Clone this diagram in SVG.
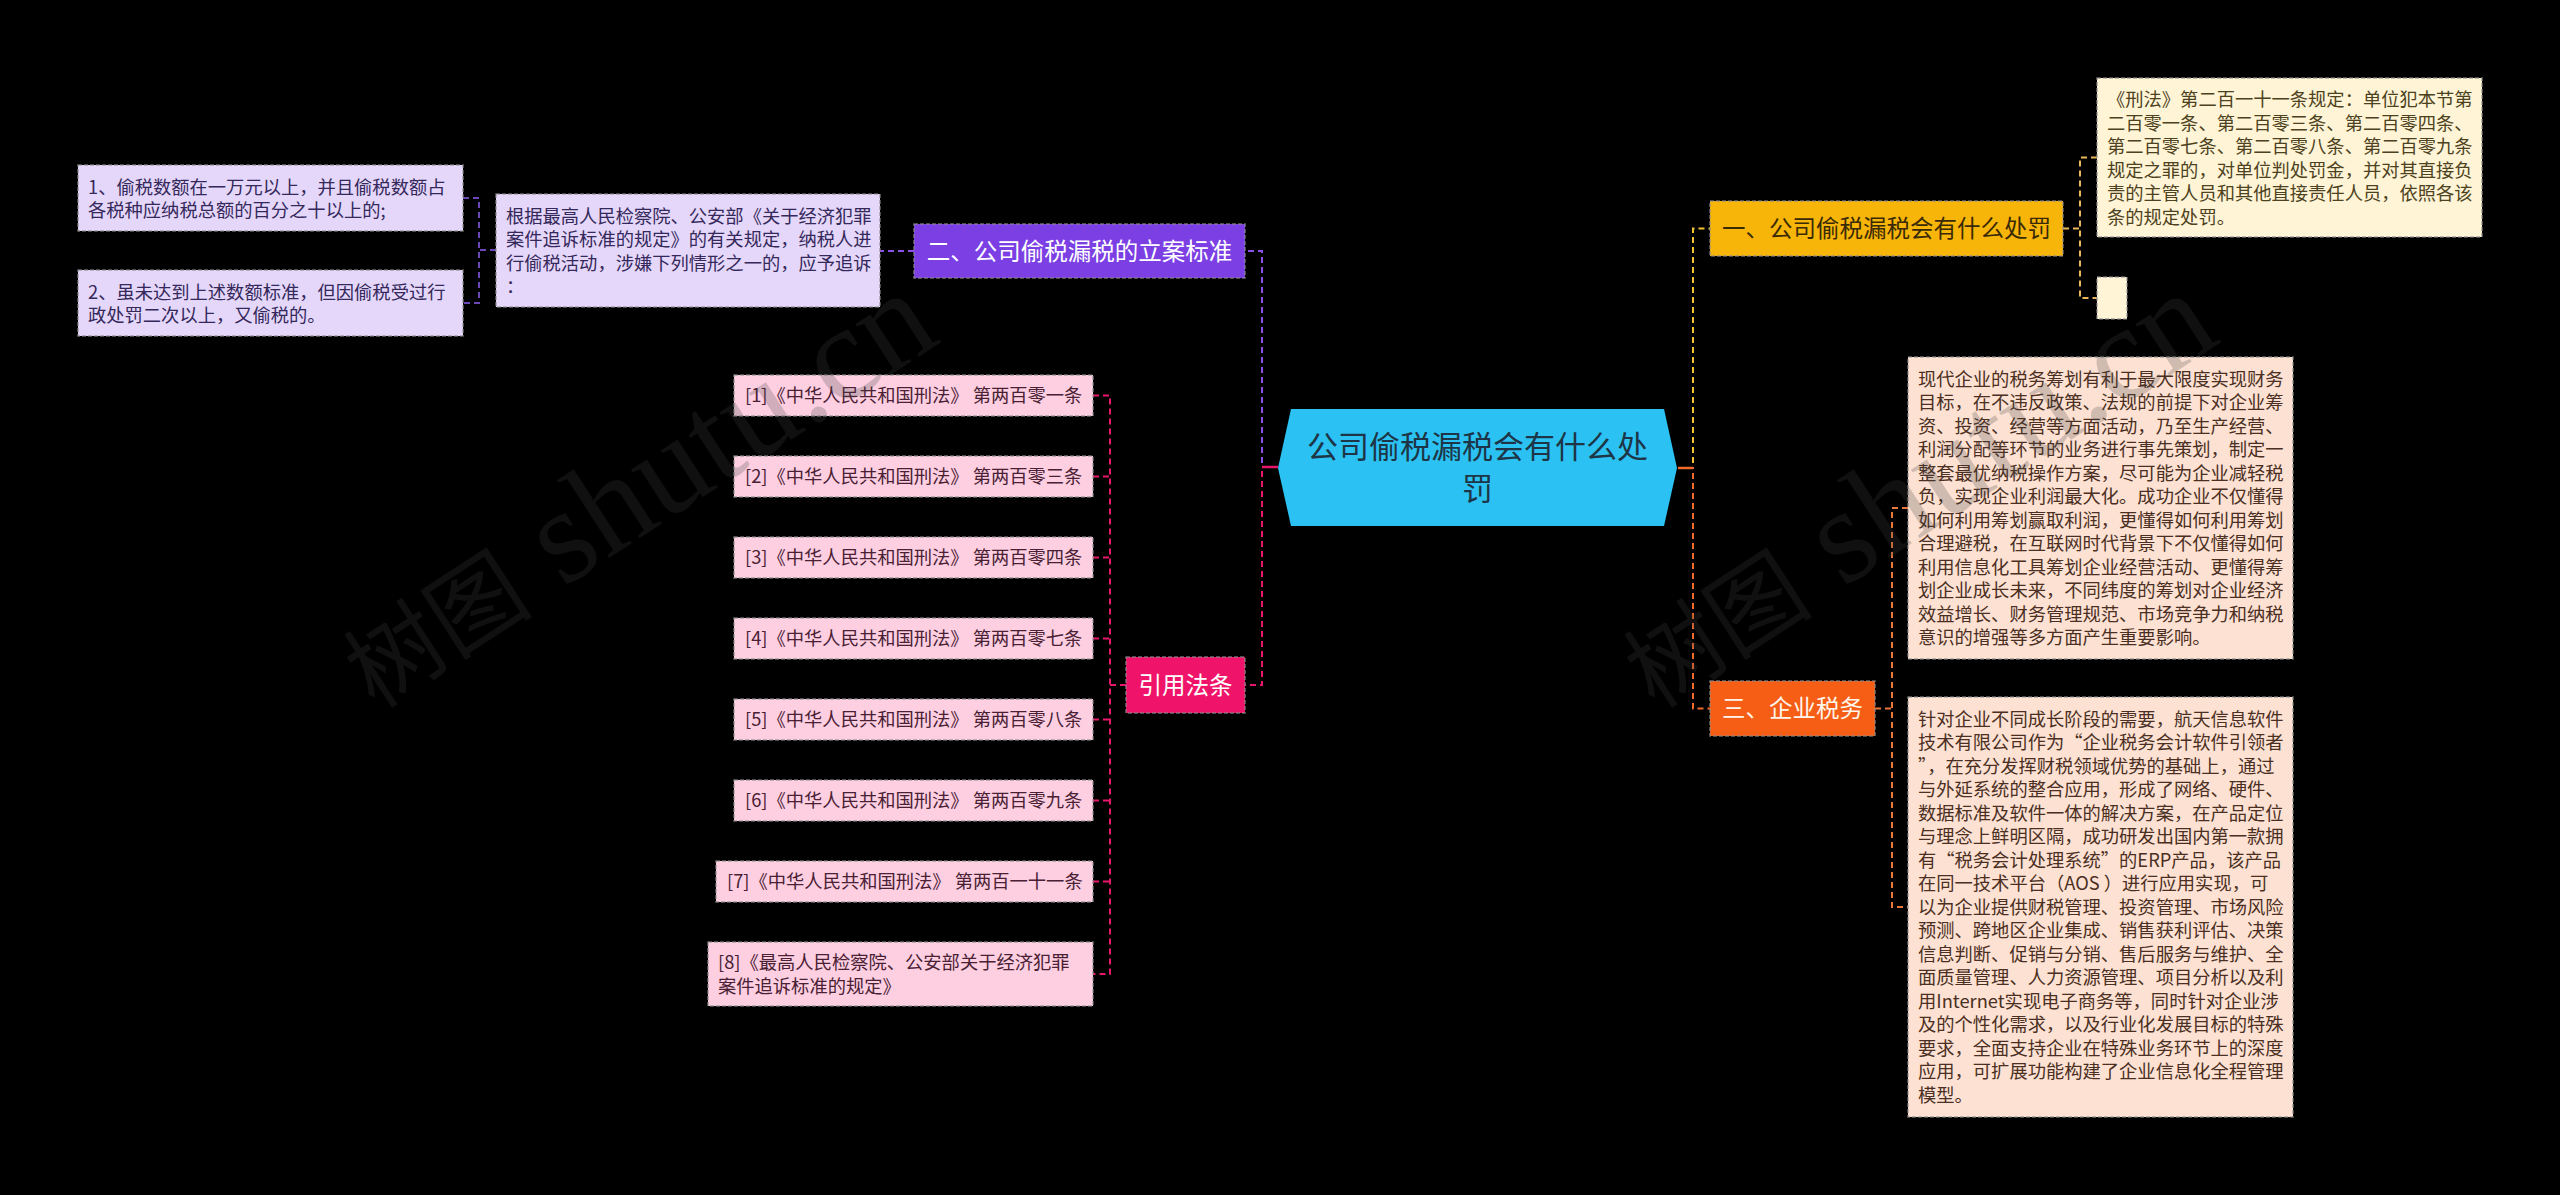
<svg xmlns="http://www.w3.org/2000/svg" width="2560" height="1195" viewBox="0 0 2560 1195">
<style>
.t{font-family:"Noto Sans CJK SC","Liberation Sans",sans-serif;font-size:18.3px}
.b{font-family:"Noto Sans CJK SC","Liberation Sans",sans-serif;font-size:23.5px;text-anchor:middle}
.box{stroke:#8c8c8c;stroke-opacity:.75;stroke-width:1.5;stroke-dasharray:4 2}
.lav{fill:#E4D7FA}.lavt{fill:#35285a}
.pk{fill:#FDCFE1}.pkt{fill:#4a2034}
.cr{fill:#FFF4D6}.crt{fill:#4d4220}
.pe{fill:#FDE1D3}.pet{fill:#4a2f22}
.c{fill:none;stroke-width:2;stroke-dasharray:6 4}
.wm{font-family:"Liberation Serif","Noto Sans CJK SC",serif;fill:#444;fill-opacity:.24}
</style>
<rect x="0" y="0" width="2560" height="1195" fill="#000"/>

<g id="connectors">
  <path class="c" stroke="#8D4FE6" d="M1278 467 H1262 V251 H1245"/>
  <path class="c" stroke="#8D4FE6" d="M914 251 H880"/>
  <path class="c" stroke="#6B47B8" d="M496 250 H479 M463 198 H479 V303 H463"/>
  <path class="c" stroke="#E8176B" d="M1278 467 H1262 V685 H1245"/>
  <path fill="none" stroke="#E8176B" stroke-width="2.5" d="M1262 467 H1278"/>
  <path class="c" stroke="#E8176B" d="M1126 685 H1110 M1093 395.5 H1110 V974 H1093 M1093 476.5 H1110 M1093 557.5 H1110 M1093 638.5 H1110 M1093 719.5 H1110 M1093 800.5 H1110 M1093 881.5 H1110"/>
  <path class="c" stroke="#F2C230" d="M1678 468 H1693 V228.5 H1710"/>
  <path class="c" stroke="#F2692A" d="M1678 468 H1693 V708.5 H1710"/>
  <path fill="none" stroke="#F2692A" stroke-width="2.5" d="M1678 468 H1693"/>
  <path class="c" stroke="#E7B75A" d="M2063 228.5 H2080 M2097 157.5 H2080 V298 H2097"/>
  <path class="c" stroke="#E9773A" d="M1875 708.5 H1892 M1908 508 H1892 V907 H1908"/>
</g>

<g id="center">
  <polygon points="1291,409 1664,409 1677,468 1664,526 1291,526 1278,468" fill="#2BC2F3"/>
  <text x="1477.5" y="458" font-family="Noto Sans CJK SC,Liberation Sans,sans-serif" font-size="31" text-anchor="middle" fill="#1d3546">公司偷税漏税会有什么处</text>
  <text x="1477.5" y="500" font-family="Noto Sans CJK SC,Liberation Sans,sans-serif" font-size="31" text-anchor="middle" fill="#1d3546">罚</text>
</g>

<g id="n2">
  <rect class="box" x="914" y="224" width="331" height="54" fill="#7B3FE4"/>
  <text class="b" x="1079.5" y="259.6" fill="#fff">二、公司偷税漏税的立案标准</text>
</g>
<g id="n2-main">
  <rect class="box lav" x="496" y="194" width="384" height="113"/>
  <text class="t lavt" x="506" y="222.5">根据最高人民检察院、公安部《关于经济犯罪</text>
  <text class="t lavt" x="506" y="246">案件追诉标准的规定》的有关规定，纳税人进</text>
  <text class="t lavt" x="506" y="269.5">行偷税活动，涉嫌下列情形之一的，应予追诉</text>
  <text class="t lavt" x="506" y="293">：</text>
</g>
<g id="n2-a">
  <rect class="box lav" x="78" y="165" width="385" height="66"/>
  <text class="t lavt" x="88" y="193.5">1、偷税数额在一万元以上，并且偷税数额占</text>
  <text class="t lavt" x="88" y="217">各税种应纳税总额的百分之十以上的;</text>
</g>
<g id="n2-b">
  <rect class="box lav" x="78" y="270" width="385" height="66"/>
  <text class="t lavt" x="88" y="298.5">2、虽未达到上述数额标准，但因偷税受过行</text>
  <text class="t lavt" x="88" y="322">政处罚二次以上，又偷税的。</text>
</g>

<g id="nref">
  <rect class="box" x="1126" y="657" width="119" height="56" fill="#EF1469"/>
  <text class="b" x="1185.5" y="693.6" fill="#fff">引用法条</text>
</g>
<g id="ref1"><rect class="box pk" x="734" y="375" width="359" height="41"/><text class="t pkt" x="745" y="402.2">[1]《中华人民共和国刑法》 第两百零一条</text></g>
<g id="ref2"><rect class="box pk" x="734" y="456" width="359" height="41"/><text class="t pkt" x="745" y="483.2">[2]《中华人民共和国刑法》 第两百零三条</text></g>
<g id="ref3"><rect class="box pk" x="734" y="537" width="359" height="41"/><text class="t pkt" x="745" y="564.2">[3]《中华人民共和国刑法》 第两百零四条</text></g>
<g id="ref4"><rect class="box pk" x="734" y="618" width="359" height="41"/><text class="t pkt" x="745" y="645.2">[4]《中华人民共和国刑法》 第两百零七条</text></g>
<g id="ref5"><rect class="box pk" x="734" y="699" width="359" height="41"/><text class="t pkt" x="745" y="726.2">[5]《中华人民共和国刑法》 第两百零八条</text></g>
<g id="ref6"><rect class="box pk" x="734" y="780" width="359" height="41"/><text class="t pkt" x="745" y="807.2">[6]《中华人民共和国刑法》 第两百零九条</text></g>
<g id="ref7"><rect class="box pk" x="716" y="861" width="377" height="41"/><text class="t pkt" x="727" y="888.2">[7]《中华人民共和国刑法》 第两百一十一条</text></g>
<g id="ref8"><rect class="box pk" x="708" y="942" width="385" height="64"/>
  <text class="t pkt" x="718" y="969">[8]《最高人民检察院、公安部关于经济犯罪</text>
  <text class="t pkt" x="718" y="992.5">案件追诉标准的规定》</text></g>

<g id="n1">
  <rect class="box" x="1710" y="201" width="353" height="55" fill="#F7B50A"/>
  <text class="b" x="1886.5" y="237" fill="#3a2a05">一、公司偷税漏税会有什么处罚</text>
</g>
<g id="n1-a">
  <rect class="box cr" x="2097" y="78" width="385" height="159"/>
  <text class="t crt" x="2107" y="106">《刑法》第二百一十一条规定：单位犯本节第</text>
  <text class="t crt" x="2107" y="129.5">二百零一条、第二百零三条、第二百零四条、</text>
  <text class="t crt" x="2107" y="153">第二百零七条、第二百零八条、第二百零九条</text>
  <text class="t crt" x="2107" y="176.5">规定之罪的，对单位判处罚金，并对其直接负</text>
  <text class="t crt" x="2107" y="200">责的主管人员和其他直接责任人员，依照各该</text>
  <text class="t crt" x="2107" y="223.5">条的规定处罚。</text>
</g>
<g id="n1-b">
  <rect class="box cr" x="2097" y="277" width="30" height="42"/>
</g>

<g id="n3">
  <rect class="box" x="1710" y="681" width="165" height="55" fill="#F55E14"/>
  <text class="b" x="1792.5" y="717" fill="#fff5ec">三、企业税务</text>
</g>
<g id="n3-a">
  <rect class="box pe" x="1908" y="357" width="385" height="302"/>
  <text class="t pet" x="1918" y="385.5">现代企业的税务筹划有利于最大限度实现财务</text>
  <text class="t pet" x="1918" y="409">目标，在不违反政策、法规的前提下对企业筹</text>
  <text class="t pet" x="1918" y="432.5">资、投资、经营等方面活动，乃至生产经营、</text>
  <text class="t pet" x="1918" y="456">利润分配等环节的业务进行事先策划，制定一</text>
  <text class="t pet" x="1918" y="479.5">整套最优纳税操作方案，尽可能为企业减轻税</text>
  <text class="t pet" x="1918" y="503">负，实现企业利润最大化。成功企业不仅懂得</text>
  <text class="t pet" x="1918" y="526.5">如何利用筹划赢取利润，更懂得如何利用筹划</text>
  <text class="t pet" x="1918" y="550">合理避税，在互联网时代背景下不仅懂得如何</text>
  <text class="t pet" x="1918" y="573.5">利用信息化工具筹划企业经营活动、更懂得筹</text>
  <text class="t pet" x="1918" y="597">划企业成长未来，不同纬度的筹划对企业经济</text>
  <text class="t pet" x="1918" y="620.5">效益增长、财务管理规范、市场竞争力和纳税</text>
  <text class="t pet" x="1918" y="644">意识的增强等多方面产生重要影响。</text>
</g>
<g id="n3-b">
  <rect class="box pe" x="1908" y="697" width="385" height="420"/>
  <text class="t pet" x="1918" y="725.5">针对企业不同成长阶段的需要，航天信息软件</text>
  <text class="t pet" x="1918" y="749">技术有限公司作为“企业税务会计软件引领者</text>
  <text class="t pet" x="1918" y="772.5">”，在充分发挥财税领域优势的基础上，通过</text>
  <text class="t pet" x="1918" y="796">与外延系统的整合应用，形成了网络、硬件、</text>
  <text class="t pet" x="1918" y="819.5">数据标准及软件一体的解决方案，在产品定位</text>
  <text class="t pet" x="1918" y="843">与理念上鲜明区隔，成功研发出国内第一款拥</text>
  <text class="t pet" x="1918" y="866.5">有“税务会计处理系统”的ERP产品，该产品</text>
  <text class="t pet" x="1918" y="890">在同一技术平台（AOS ）进行应用实现，可</text>
  <text class="t pet" x="1918" y="913.5">以为企业提供财税管理、投资管理、市场风险</text>
  <text class="t pet" x="1918" y="937">预测、跨地区企业集成、销售获利评估、决策</text>
  <text class="t pet" x="1918" y="960.5">信息判断、促销与分销、售后服务与维护、全</text>
  <text class="t pet" x="1918" y="984">面质量管理、人力资源管理、项目分析以及利</text>
  <text class="t pet" x="1918" y="1007.5">用Internet实现电子商务等，同时针对企业涉</text>
  <text class="t pet" x="1918" y="1031">及的个性化需求，以及行业化发展目标的特殊</text>
  <text class="t pet" x="1918" y="1054.5">要求，全面支持企业在特殊业务环节上的深度</text>
  <text class="t pet" x="1918" y="1078">应用，可扩展功能构建了企业信息化全程管理</text>
  <text class="t pet" x="1918" y="1101.5">模型。</text>
</g>

<g id="watermark">
  <text class="wm" transform="translate(375 710) rotate(-33)"><tspan font-size="95">树图</tspan><tspan font-size="135"> shutu.cn</tspan></text>
  <text class="wm" transform="translate(1655 710) rotate(-33)"><tspan font-size="95">树图</tspan><tspan font-size="135"> shutu.cn</tspan></text>
</g>
</svg>
